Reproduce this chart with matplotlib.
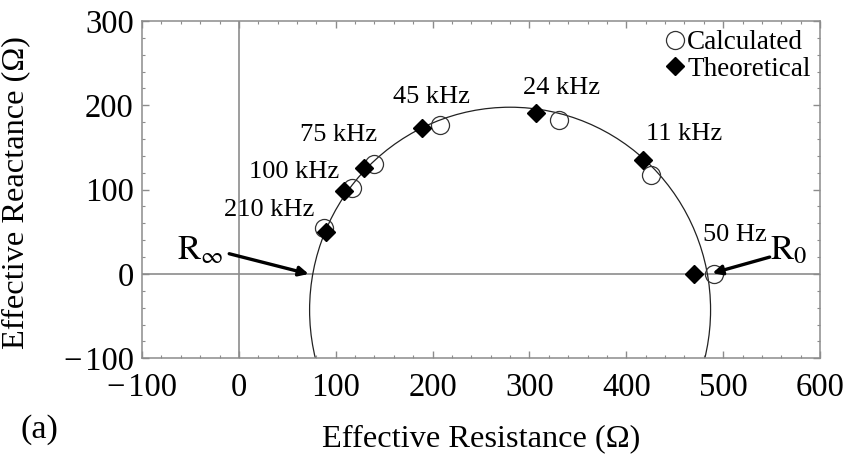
import matplotlib
matplotlib.use('Agg')
import matplotlib.pyplot as plt
from matplotlib.patches import Ellipse
from matplotlib.ticker import MultipleLocator, FuncFormatter
from matplotlib.lines import Line2D

# frequency labels, low to high index = high to low frequency
FREQ_LABELS = ['210 kHz', '100 kHz', '75 kHz', '45 kHz', '24 kHz', '11 kHz', '50 Hz']

# Calculated (open circles)
CALC_R = [88, 117, 140, 208, 331, 425, 491]
CALC_X = [54, 102, 130, 177, 183, 117, 0]

# Theoretical (filled diamonds)
THEO_R = [90, 109, 129, 189, 307, 417, 470]
THEO_X = [50, 98, 126, 173, 191, 135, 0]

# fitted arc (drawn as ellipse in data units)
ARC_CENTER = (280, -42.7)
ARC_WIDTH = 414
ARC_HEIGHT = 480.8

# where the frequency labels sit
LABEL_POS = [(31, 76), (57, 121), (103, 165), (199, 210), (333, 221), (460, 166), (512, 46)]

GREY = '#8c8c8c'


def tick_fmt(v, pos):
    if v < 0:
        return '\u2212\u200a%d' % abs(v)
    return '%d' % v


def main():
    plt.rcParams['font.family'] = ['Liberation Serif', 'DejaVu Serif']
    plt.rcParams['mathtext.fontset'] = 'stix'

    fig = plt.figure(figsize=(8.48, 4.55), dpi=100)
    ax = fig.add_axes([0.1675, 0.2125, 0.7995, 0.7415])

    ax.set_xlim(-100, 600)
    ax.set_ylim(-100, 300)

    ax.axhline(0, color=GREY, lw=1.2, zorder=1)
    ax.axvline(0, color=GREY, lw=1.2, zorder=1)

    arc = Ellipse(ARC_CENTER, ARC_WIDTH, ARC_HEIGHT, fill=False,
                  edgecolor='#222222', lw=0.9, zorder=2)
    ax.add_patch(arc)

    ax.plot(CALC_R, CALC_X, ls='none', marker='o', ms=13, mfc='none',
            mec='#333333', mew=0.9, zorder=3)
    ax.plot(THEO_R, THEO_X, ls='none', marker='D', ms=9.5, mfc='black',
            mec='black', zorder=4)

    for lab, (px, py) in zip(FREQ_LABELS, LABEL_POS):
        ax.text(px, py, lab, fontsize=19, ha='center', va='center', zorder=5)

    # R_inf and R_0 markers
    ax.annotate('', xy=(72, 0), xytext=(-10, 24),
                arrowprops=dict(arrowstyle='-|>', lw=2.4, color='black', mutation_scale=14,
                                shrinkA=0, shrinkB=0))
    ax.text(-40, 28, r'$\mathrm{R}_{\infty}$', fontsize=25, ha='center', va='center')
    ax.annotate('', xy=(489, 1), xytext=(548, 20),
                arrowprops=dict(arrowstyle='-|>', lw=2.4, color='black', mutation_scale=14,
                                shrinkA=0, shrinkB=0))
    ax.text(568, 28, r'$\mathrm{R}_{0}$', fontsize=25, ha='center', va='center')

    handles = [
        Line2D([], [], ls='none', marker='o', ms=13, mfc='none', mec='#333333', mew=0.9),
        Line2D([], [], ls='none', marker='D', ms=9.5, mfc='black', mec='black'),
    ]
    ax.legend(handles, ['Calculated', 'Theoretical'], loc='upper right', frameon=False,
              fontsize=19.5, handlelength=0.7, handletextpad=0.1, borderaxespad=0.15,
              borderpad=0.2, labelspacing=0.05)

    ax.xaxis.set_major_locator(MultipleLocator(100))
    ax.xaxis.set_minor_locator(MultipleLocator(20))
    ax.yaxis.set_major_locator(MultipleLocator(100))
    ax.yaxis.set_minor_locator(MultipleLocator(20))
    ax.xaxis.set_major_formatter(FuncFormatter(tick_fmt))
    ax.yaxis.set_major_formatter(FuncFormatter(tick_fmt))
    ax.tick_params(which='both', direction='in', top=True, right=True, color=GREY)
    ax.tick_params(which='major', length=5, width=1)
    ax.tick_params(which='minor', length=2.5, width=0.8)
    ax.tick_params(axis='x', labelsize=23.5, pad=10)
    ax.tick_params(axis='y', labelsize=23.5, pad=6)
    for sp in ax.spines.values():
        sp.set_color(GREY)
        sp.set_linewidth(1.1)

    ax.set_xlabel('Effective Resistance (Ω)', fontsize=23.3)
    ax.set_ylabel('Effective Reactance (Ω)', fontsize=23.3)
    ax.xaxis.set_label_coords(0.5, -0.195)
    ax.yaxis.set_label_coords(-0.165, 0.49)
    fig.text(39 / 848, 1 - 430 / 455, '(a)', fontsize=24.5, ha='center', va='center')

    fig.savefig('out.png', dpi=100)


if __name__ == '__main__':
    main()
